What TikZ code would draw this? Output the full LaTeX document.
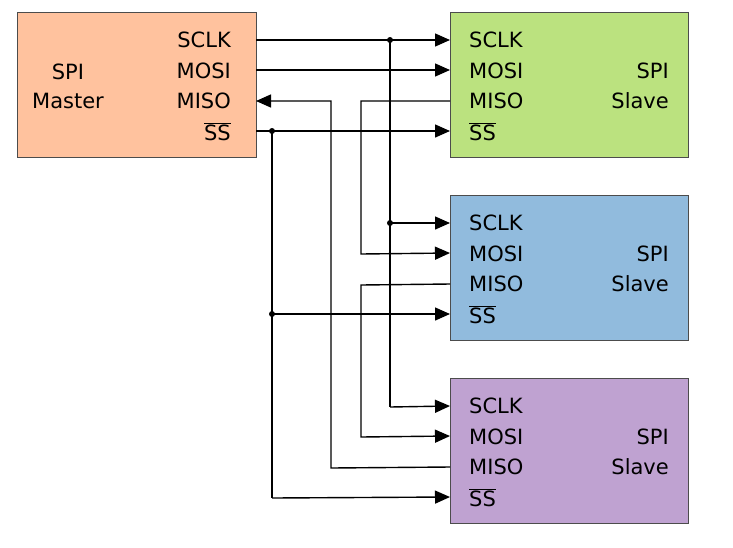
\documentclass[tikz,border=0pt]{standalone}
\usepackage{fontspec}
\setmainfont{DejaVu Sans}
\usetikzlibrary{arrows.meta}
\newcommand\ovl[1]{\leavevmode\vbox{\hrule height 1pt \kern1.5pt\hbox{#1}}}
\definecolor{mastc}{HTML}{FFC29E}
\definecolor{sla}{HTML}{BBE27F}
\definecolor{slb}{HTML}{91BBDD}
\definecolor{slc}{HTML}{BFA2D1}
\tikzset{
 box/.style={draw=black!70,line width=1pt,anchor=north west,inner sep=0pt},
 lbl/.style={font=\fontsize{21}{24}\selectfont,inner sep=0pt},
 wire/.style={line width=1.4pt},
 arr/.style={wire,-{Triangle[length=15pt,width=13pt]}},
 dot/.style={circle,fill=black,inner sep=0pt,minimum size=6pt}
}
\begin{document}
\begin{tikzpicture}[x=1pt,y=-1pt]
\useasboundingbox[fill=white] (0,0) rectangle (733,547);
% boxes
\node[box,fill=mastc,minimum width=239pt,minimum height=145pt] (M) at (17,12) {};
\node[box,fill=sla,minimum width=238pt,minimum height=145pt] (S1) at (450,12) {};
\node[box,fill=slb,minimum width=238pt,minimum height=145pt] (S2) at (450,195) {};
\node[box,fill=slc,minimum width=238pt,minimum height=145pt] (S3) at (450,378) {};
% master labels
\node[lbl,anchor=east] (mclk) at (231,40) {SCLK};
\node[lbl,anchor=east] (mmosi) at (231,71) {MOSI};
\node[lbl,anchor=east] (mmiso) at (231,101) {MISO};
\node[lbl,anchor=east] (mss) at (231,132) {\ovl{SS}};
\node[lbl,align=center] (mt) at (68,86) {SPI\\[5pt]Master};
% slave labels
\foreach \s/\y in {S1/0,S2/183,S3/366}{
 \node[lbl,anchor=west] (\s clk) at (469,40+\y) {SCLK};
 \node[lbl,anchor=west] (\s mosi) at (469,71+\y) {MOSI};
 \node[lbl,anchor=west] (\s miso) at (469,101+\y) {MISO};
 \node[lbl,anchor=west] (\s ss) at (469,132+\y) {\ovl{SS}};
 \node[lbl,anchor=east] (\s t1) at (669,71+\y) {SPI};
 \node[lbl,anchor=east] (\s t2) at (669,101+\y) {Slave};
}
% coordinates
\coordinate (m1) at (256,40); \coordinate (m2) at (256,70);
\coordinate (m3) at (256,101); \coordinate (m4) at (256,131);
\foreach \s/\y in {S1/0,S2/183,S3/366}{
 \coordinate (\s a) at (450,40+\y); \coordinate (\s b) at (450,70+\y);
 \coordinate (\s c) at (450,101+\y); \coordinate (\s d) at (450,131+\y);
}
% SCLK
\draw[arr] (m1) -- (S1a);
\draw[wire] (390,40) -- (390,407);
\draw[arr] (390,223) -- (S2a);
\draw[arr] (390,407) -- (S3a);
\node[dot] (d1) at (390,40) {};
\node[dot] (d2) at (390,223) {};
% MOSI chain
\draw[arr] (m2) -- (S1b);
\draw[arr] (S1c) -- (361,101) -- (361,254) -- (S2b);
\draw[arr] (S2c) -- (361,285) -- (361,437) -- (S3b);
\draw[arr] (S3c) -- (331,468) -- (331,101) -- (m3);
% SS
\draw[arr] (m4) -- (S1d);
\draw[wire] (272,131) -- (272,498);
\draw[arr] (272,314) -- (S2d);
\draw[arr] (272,498) -- (S3d);
\node[dot] (d3) at (272,131) {};
\node[dot] (d4) at (272,314) {};
\end{tikzpicture}
\end{document}
